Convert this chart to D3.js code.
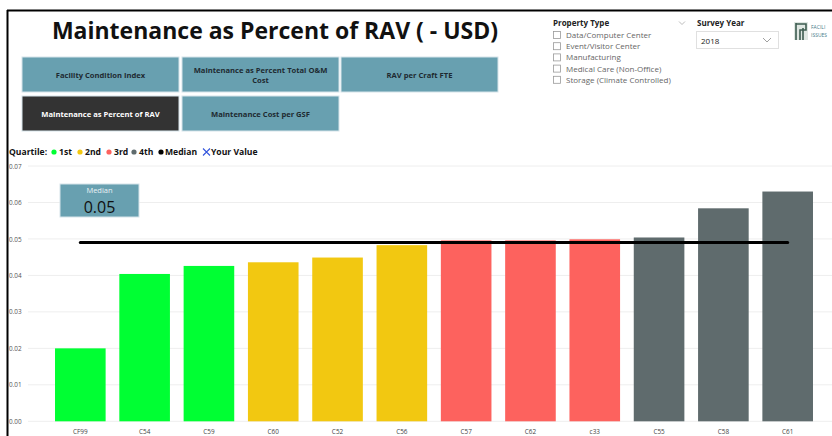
<!DOCTYPE html>
<html><head><meta charset="utf-8">
<script src="https://cdn.jsdelivr.net/npm/d3@7"></script>
<style>
html,body{margin:0;padding:0;background:#fff;}
svg{display:block;font-family:"Open Sans","Segoe UI",sans-serif;}
</style></head>
<body>
<svg id="c" width="832" height="436"></svg>
<script>
const categories = ["CF99","C54","C59","C60","C52","C56","C57","C62","c33","C55","C58","C61"];
const values = [0.0200,0.0404,0.0426,0.0436,0.0449,0.0483,0.0496,0.0496,0.0499,0.0504,0.0584,0.0630];
const quartiles = ["1st","1st","1st","2nd","2nd","2nd","3rd","3rd","3rd","4th","4th","4th"];
const medianValue = 0.049;
const yTicks = [0,0.01,0.02,0.03,0.04,0.05,0.06,0.07];
const quartileNames = ["1st","2nd","3rd","4th"];
const quartileColors = ["#00ff33","#f2c811","#fd625e","#5f6b6d"];
const buttonLabels = [["Facility Condition Index"],["Maintenance as Percent Total O&M","Cost"],["RAV per Craft FTE"],["Maintenance as Percent of RAV"],["Maintenance Cost per GSF"]];
const propertyTypes = ["Data/Computer Center","Event/Visitor Center","Manufacturing","Medical Care (Non-Office)","Storage (Climate Controlled)"];

const svg = d3.select("#c");
const color = d3.scaleOrdinal().domain(quartileNames).range(quartileColors);

// frame
svg.append("line").attr("x1",7.5).attr("x2",7.5).attr("y1",10).attr("y2",436).attr("stroke","#000").attr("stroke-width",2);
svg.append("line").attr("x1",7).attr("x2",832).attr("y1",10.5).attr("y2",10.5).attr("stroke","#000").attr("stroke-width",2);

// title
svg.append("text").attr("x",275).attr("y",39).attr("text-anchor","middle")
  .attr("font-size",23).attr("font-weight",700).attr("fill","#111")
  .text("Maintenance as Percent of RAV ( - USD)");

// buttons
const bx = [22,182,341], by=[57,96], bw=157, bh=35;
buttonLabels.forEach((lab,i)=>{
  const r = Math.floor(i/3), c = i%3;
  const active = i===3;
  const g = svg.append("g").attr("transform",`translate(${bx[c]},${by[r]})`);
  g.append("rect").attr("width",bw).attr("height",bh).attr("fill",active?"#333333":"#68a0b0").attr("stroke","#d6e4ea").attr("stroke-width",1);
  lab.forEach((t,j)=>{
    g.append("text").attr("x",bw/2).attr("y",bh/2 + 3 + (j - (lab.length-1)/2)*10)
     .attr("text-anchor","middle").attr("font-size",7.6).attr("font-weight",700)
     .attr("fill",active?"#fff":"#1e2a30").text(t);
  });
});

// legend
const lg = svg.append("g").attr("transform","translate(9,155)");
const fs = 8.6;
lg.append("text").attr("x",0).attr("y",0).attr("font-size",fs).attr("font-weight",700).attr("fill","#111").text("Quartile:");
const dotX = [54,80,109,134];
quartileNames.forEach((q,i)=>{
  lg.append("circle").attr("cx",dotX[i]-9).attr("cy",-3).attr("r",2.6).attr("fill",quartileColors[i]);
  lg.append("text").attr("x",dotX[i]-4).attr("y",0).attr("font-size",fs).attr("font-weight",700).attr("fill","#111").text(q);
});
lg.append("circle").attr("cx",161-9).attr("cy",-3).attr("r",2.6).attr("fill","#000");
lg.append("text").attr("x",161-5).attr("y",0).attr("font-size",fs).attr("font-weight",700).attr("fill","#111").text("Median");
const lx = 206-9;
lg.append("path").attr("d",`M${lx-3},-6.5L${lx+4},0.5M${lx+4},-6.5L${lx-3},0.5`).attr("stroke","#3355dd").attr("stroke-width",1.1);
lg.append("text").attr("x",lx+5).attr("y",0).attr("font-size",fs).attr("font-weight",700).attr("fill","#111").text("Your Value");

// slicers
const sl = svg.append("g");
sl.append("text").attr("x",553).attr("y",26).attr("font-size",8).attr("font-weight",700).attr("fill","#222").text("Property Type");
sl.append("path").attr("d","M679,21.5L682,24.5L685,21.5").attr("fill","none").attr("stroke","#aaa").attr("stroke-width",0.8);
propertyTypes.forEach((p,i)=>{
  const y = 35.5 + i*11.2;
  sl.append("rect").attr("x",553.5).attr("y",y-4).attr("width",7).attr("height",7).attr("fill","#fff").attr("stroke","#999").attr("stroke-width",0.8);
  sl.append("text").attr("x",566).attr("y",y+2.5).attr("font-size",8).attr("fill","#666").text(p);
});
sl.append("text").attr("x",697).attr("y",26).attr("font-size",8).attr("font-weight",700).attr("fill","#222").text("Survey Year");
sl.append("rect").attr("x",696.5).attr("y",31.5).attr("width",82).attr("height",17).attr("fill","#fff").attr("stroke","#e0e0e0");
sl.append("text").attr("x",701).attr("y",44).attr("font-size",8).attr("fill","#222").text("2018");
sl.append("path").attr("d","M763,38L767,42L771,38").attr("fill","none").attr("stroke","#888").attr("stroke-width",0.8);
// logo
const lo = sl.append("g").attr("transform","translate(794,20)");
lo.append("rect").attr("x",0).attr("y",2).attr("width",14).attr("height",18).attr("fill","#dfe7e2");
lo.append("path").attr("d","M2,3V20M2,4H12V10H6V20M9,8V20").attr("stroke","#3d5c50").attr("stroke-width",1.6).attr("fill","none");
lo.append("text").attr("x",17).attr("y",9).attr("font-size",5).attr("fill","#4a7a8a").text("FACILI");
lo.append("text").attr("x",17).attr("y",17).attr("font-size",5).attr("fill","#4a7a8a").text("ISSUES");

// chart
const y = d3.scaleLinear().domain([0,0.07]).range([421.3,166]);
const x = d3.scaleBand().domain(categories).range([30,838]).paddingInner(0.213).paddingOuter(0.389);

const grid = svg.append("g");
grid.selectAll("line").data(yTicks).join("line")
  .attr("x1",28).attr("x2",832).attr("y1",d=>y(d)).attr("y2",d=>y(d))
  .attr("stroke","#eeeeee").attr("stroke-width",1);

const yAxis = svg.append("g").attr("transform","translate(9,0)")
  .call(d3.axisRight(y).tickValues(yTicks).tickFormat(d3.format(".2f")).tickSize(0).tickPadding(0));
yAxis.select(".domain").remove();
yAxis.selectAll("text").attr("font-size",6.4).attr("fill","#555").attr("font-family","'Open Sans',sans-serif");

svg.append("g").selectAll("rect").data(categories).join("rect")
  .attr("x",d=>x(d)).attr("width",x.bandwidth())
  .attr("y",(d,i)=>y(values[i])).attr("height",(d,i)=>y(0)-y(values[i]))
  .attr("fill",(d,i)=>color(quartiles[i]));

const xAxis = svg.append("g").attr("transform",`translate(0,${y(0)})`)
  .call(d3.axisBottom(x).tickSize(0).tickPadding(8));
xAxis.select(".domain").remove();
xAxis.selectAll("text").attr("font-size",6.4).attr("fill","#444").attr("font-family","'Open Sans',sans-serif");

// median line
svg.append("line")
  .attr("x1",x(categories[0])+x.bandwidth()/2).attr("x2",x(categories[categories.length-1])+x.bandwidth()/2)
  .attr("y1",y(medianValue)).attr("y2",y(medianValue))
  .attr("stroke","#000").attr("stroke-width",3).attr("stroke-linecap","round");

// median card
const card = svg.append("g").attr("transform","translate(60,184)");
card.append("rect").attr("width",79).attr("height",33).attr("fill","#68a0b0").attr("stroke","#d6e4ea");
card.append("text").attr("x",39.5).attr("y",9).attr("text-anchor","middle").attr("font-size",7.5).attr("fill","#e8f1f4").text("Median");
card.append("text").attr("x",39.5).attr("y",28.5).attr("text-anchor","middle").attr("font-size",16).attr("fill","#111").text(d3.format(".2f")(medianValue));
</script>
</body></html>
